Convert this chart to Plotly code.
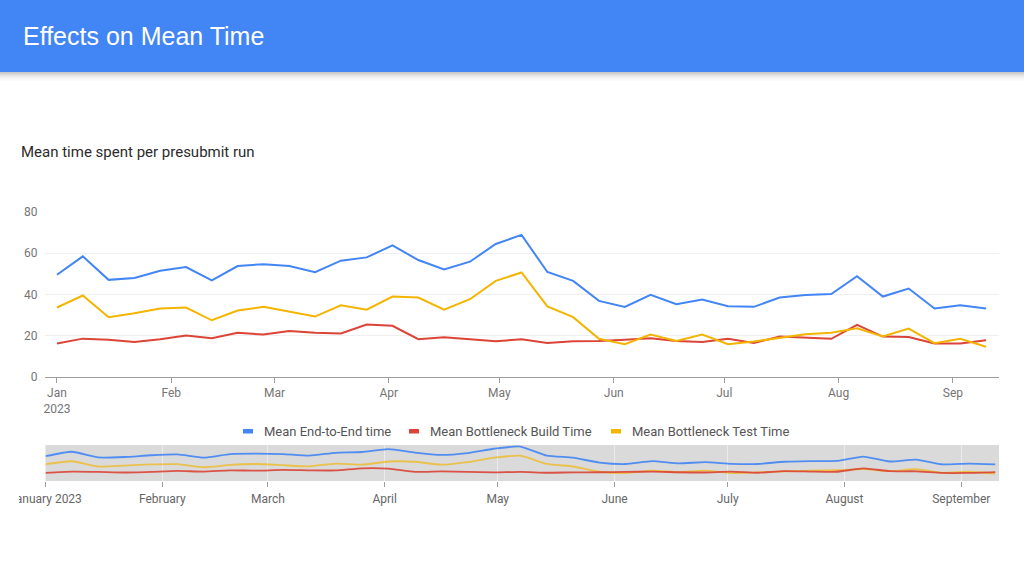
import plotly.graph_objects as go

# ---------------- data ----------------
weeks = [
    "2023-01-01", "2023-01-08", "2023-01-15", "2023-01-22", "2023-01-29",
    "2023-02-05", "2023-02-12", "2023-02-19", "2023-02-26",
    "2023-03-05", "2023-03-12", "2023-03-19", "2023-03-26",
    "2023-04-02", "2023-04-09", "2023-04-16", "2023-04-23", "2023-04-30",
    "2023-05-07", "2023-05-14", "2023-05-21", "2023-05-28",
    "2023-06-04", "2023-06-11", "2023-06-18", "2023-06-25",
    "2023-07-02", "2023-07-09", "2023-07-16", "2023-07-23", "2023-07-30",
    "2023-08-06", "2023-08-13", "2023-08-20", "2023-08-27",
    "2023-09-03", "2023-09-10",
]
end_to_end = [49.6, 58.5, 47.1, 48.0, 51.5, 53.3, 46.8, 53.8, 54.7, 53.8,
              50.8, 56.4, 58.0, 63.8, 56.7, 52.1, 55.9, 64.5, 68.9, 50.9,
              46.6, 36.9, 34.0, 39.8, 35.3, 37.6, 34.3, 34.0, 38.5, 39.7,
              40.2, 48.9, 39.0, 42.9, 33.2, 34.8, 33.2]
build_time = [16.2, 18.6, 18.1, 17.0, 18.3, 20.1, 18.8, 21.4, 20.6, 22.3,
              21.4, 21.1, 25.4, 24.8, 18.3, 19.3, 18.3, 17.3, 18.3, 16.5,
              17.3, 17.5, 18.1, 18.8, 17.5, 17.0, 18.6, 16.5, 19.6, 18.9,
              18.5, 25.3, 19.6, 19.4, 16.2, 16.2, 17.8]
test_time = [33.7, 39.5, 29.0, 30.9, 33.2, 33.7, 27.5, 32.2, 34.0, 31.6,
             29.3, 34.8, 32.6, 39.0, 38.5, 32.6, 37.7, 46.6, 50.7, 34.2,
             29.0, 18.5, 15.9, 20.6, 17.5, 20.6, 15.9, 17.2, 19.1, 20.7,
             21.5, 23.6, 19.6, 23.5, 16.4, 18.5, 14.7]

series_names = ["Mean End-to-End time", "Mean Bottleneck Build Time",
                "Mean Bottleneck Test Time"]
series_values = [end_to_end, build_time, test_time]
series_colors = ["#4285F4", "#DB4437", "#F4B400"]

month_ticks = ["2023-01-01", "2023-02-01", "2023-03-01", "2023-04-01",
               "2023-05-01", "2023-06-01", "2023-07-01", "2023-08-01",
               "2023-09-01"]
main_tick_labels = ["Jan<br>2023", "Feb", "Mar", "Apr", "May", "Jun", "Jul",
                    "Aug", "Sep"]
nav_tick_labels = ["January 2023", "February", "March", "April", "May",
                   "June", "July", "August", "September"]
y_ticks = [0, 20, 40, 60, 80]

title_text = "Effects on Mean Time"
subtitle_text = "Mean time spent per presubmit run"

# ---------------- figure ----------------
W, H = 1024, 576
def px(x):
    return x / W
def py(y):
    return 1 - y / H

fig = go.Figure()
for name, vals, col in zip(series_names, series_values, series_colors):
    fig.add_trace(go.Scatter(x=weeks, y=vals, name=name, mode="lines",
                             line=dict(color=col, width=2),
                             xaxis="x", yaxis="y", showlegend=False,
                             hoverinfo="x+y+name"))
# navigator (mini chart): test series drawn beneath the build series
nav_order = [0, 2, 1]
nav_opacity = [0.9, 0.9, 0.65]
for i in nav_order:
    fig.add_trace(go.Scatter(x=weeks, y=series_values[i],
                             name=series_names[i], mode="lines",
                             opacity=nav_opacity[i],
                             line=dict(color=series_colors[i], width=1.8,
                                       shape="spline", smoothing=0.5),
                             xaxis="x2", yaxis="y2", showlegend=False,
                             hoverinfo="skip"))

axis_font = dict(family="Roboto", size=12, color="#757575")

shapes = []
# header bar + shadow
shapes.append(dict(type="rect", xref="paper", yref="paper", x0=0, x1=1,
                   y0=py(72), y1=1, fillcolor="#4285F4", line=dict(width=0),
                   layer="above"))
for i, op in enumerate([0.22, 0.15, 0.10, 0.06, 0.035, 0.015]):
    shapes.append(dict(type="rect", xref="paper", yref="paper", x0=0, x1=1,
                       y0=py(72 + 1.5 * (i + 1)), y1=py(72 + 1.5 * i),
                       fillcolor=f"rgba(0,0,0,{op})", line=dict(width=0),
                       layer="above"))
# navigator background
shapes.append(dict(type="rect", xref="x2 domain", yref="y2 domain",
                   x0=0, x1=1, y0=0, y1=1, fillcolor="#dadada",
                   line=dict(width=0), layer="below"))
# clip of the first navigator label at the left edge
shapes.append(dict(type="rect", xref="paper", yref="paper", x0=0, x1=px(19),
                   y0=py(510), y1=py(488), fillcolor="white",
                   line=dict(width=0), layer="above"))

annotations = [
    dict(text=title_text, x=px(21), y=py(36), xref="paper", yref="paper",
         xanchor="left", yanchor="middle", showarrow=False,
         font=dict(family="Liberation Sans", size=25, color="white")),
    dict(text=subtitle_text, x=px(19), y=py(152), xref="paper", yref="paper",
         xanchor="left", yanchor="middle", showarrow=False,
         font=dict(family="Roboto", size=15, color="#2b2b2b")),
]

# legend (manual, centred row)
legend_marker_x = [243, 409, 611]
legend_text_x = [262, 428, 630]
for name, col, mx, tx in zip(series_names, series_colors, legend_marker_x,
                             legend_text_x):
    shapes.append(dict(type="rect", xref="paper", yref="paper",
                       x0=px(mx), x1=px(mx + 10), y0=py(433.5), y1=py(429),
                       fillcolor=col, line=dict(width=0), layer="above"))
    annotations.append(dict(text=name, x=px(tx), y=py(431.5), xref="paper",
                            yref="paper", xanchor="left", yanchor="middle",
                            showarrow=False,
                            font=dict(family="Roboto", size=13,
                                      color="#555555")))

fig.update_layout(
    width=W, height=H, autosize=False,
    margin=dict(l=0, r=0, t=0, b=0, pad=0, autoexpand=False),
    paper_bgcolor="white", plot_bgcolor="white",
    showlegend=False,
    shapes=shapes,
    annotations=annotations,
    xaxis=dict(domain=[px(45), px(999)], anchor="y",
               range=["2022-12-28 18:00", "2023-09-13 12:00"],
               tickvals=month_ticks, ticktext=main_tick_labels,
               ticks="outside", ticklen=5, tickcolor="#9e9e9e",
               showline=True, linecolor="#9e9e9e", linewidth=1,
               showgrid=False, zeroline=False, tickfont=axis_font,
               automargin=False, fixedrange=True),
    yaxis=dict(domain=[py(377), py(212)], anchor="x", range=[0, 80],
               tickvals=y_ticks, ticks="outside", ticklen=4,
               tickcolor="rgba(0,0,0,0)", showgrid=True, gridcolor="#efefef",
               zeroline=False, showline=False, tickfont=axis_font,
               automargin=False, fixedrange=True),
    xaxis2=dict(domain=[px(45.5), px(999)], anchor="y2",
                range=["2023-01-01", "2023-09-11"],
                tickvals=month_ticks, ticktext=nav_tick_labels,
                ticks="outside", ticklen=5, tickcolor="#9e9e9e",
                ticklabelstandoff=2,
                showgrid=True, gridcolor="rgba(255,255,255,0.45)",
                showline=False, zeroline=False,
                tickfont=dict(family="Roboto", size=12, color="#666666"),
                ticklabeloverflow="allow", automargin=False,
                fixedrange=True),
    yaxis2=dict(domain=[py(481), py(445)], anchor="x2", range=[0, 72],
                showticklabels=False, showgrid=False, zeroline=False,
                showline=False, automargin=False, fixedrange=True),
)

fig.write_html(
    "out.html",
    config={"displayModeBar": False},
    post_script=(
        "document.body.style.margin='0';"
        "document.body.style.overflow='hidden';"
    ),
)
